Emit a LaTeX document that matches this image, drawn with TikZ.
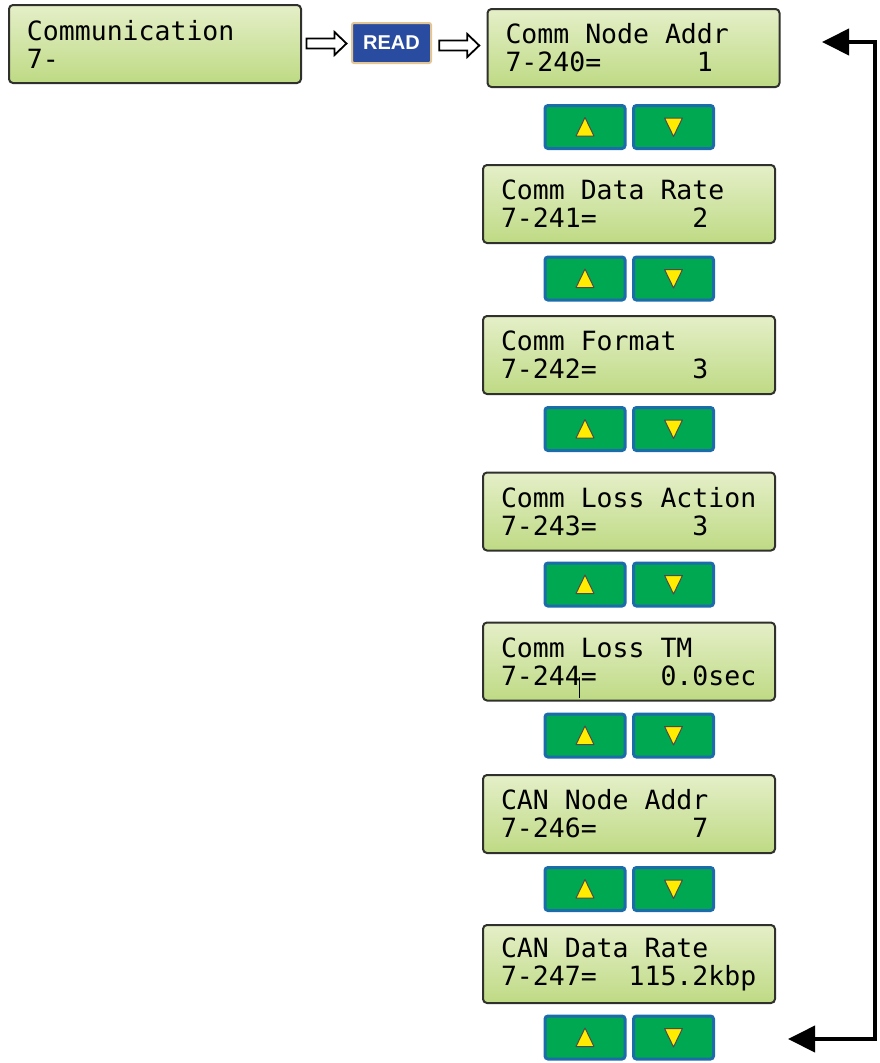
\documentclass[tikz,border=0pt]{standalone}
\usepackage{fontspec}
\usetikzlibrary{arrows.meta,calc}
\newfontfamily\lcdfont{DejaVu Sans Mono}
\newfontfamily\keyfont{Liberation Sans}
\newcommand\lcdspacing{\spaceskip=0.602em\relax\xspaceskip=\spaceskip}

\definecolor{lcdtop}{RGB}{229,239,200}
\definecolor{lcdbot}{RGB}{190,218,132}
\definecolor{lcdedge}{RGB}{48,48,44}
\definecolor{btngreen}{RGB}{0,168,82}
\definecolor{btnblue}{RGB}{28,108,172}
\definecolor{triyellow}{RGB}{255,236,0}
\definecolor{readblue}{RGB}{42,76,160}
\definecolor{readrim}{RGB}{226,198,150}

\tikzset{
  lcd/.style={draw=lcdedge, line width=2pt, rounded corners=4pt,
    top color=lcdtop, bottom color=lcdbot,
    minimum width=292pt, minimum height=78pt, text width=256pt,
    inner xsep=18pt, inner ysep=0pt, align=left,
    font=\lcdfont\fontsize{26.5pt}{28pt}\selectfont,
    execute at begin node=\lcdspacing},
  readkey/.style={draw=readrim, line width=2pt, fill=readblue, rounded corners=2pt,
    minimum width=79pt, minimum height=40pt, inner sep=0pt, text=white,
    font=\keyfont\bfseries\fontsize{20pt}{20pt}\selectfont},
  btn/.style={draw=btnblue, line width=3pt, fill=btngreen, rounded corners=3pt,
    minimum width=80pt, minimum height=43pt, inner sep=0pt},
  tri/.style={draw=black!70, line width=1pt, fill=triyellow, line join=round},
  looparrow/.style={line width=4pt, line join=miter,
    {Triangle[length=27pt,width=26pt]}-{Triangle[length=27pt,width=26pt]}},
  pics/hollowarrow/.style={code={
    \draw[line width=1.8pt, fill=white, line join=miter]
      (-20,-5) -- (8,-5) -- (8,-11.5) -- (20,0) -- (8,11.5) -- (8,5) -- (-20,5) -- cycle;}}
}

\begin{document}
\begin{tikzpicture}[x=1pt, y=-1pt]
    \useasboundingbox (0,0) rectangle (879,1063);

    % Menu entry and READ key
    \node[lcd] (comm) at (155,44) {Communication\\7-};
    \node[readkey] (read) at (391.5,43) {READ};

    % Parameter screens
    \node[lcd, minimum width=291pt] (p240) at (633.5,48) {Comm~Node~Addr\\7-240=~~~~~~1};
    \node[lcd] (p241) at (629,204) {Comm~Data~Rate\\7-241=~~~~~~2};
    \node[lcd] (p242) at (629,355) {Comm~Format\\7-242=~~~~~~3};
    \node[lcd] (p243) at (629,511.5) {Comm~Loss~Action\\7-243=~~~~~~3};
    \node[lcd] (p244) at (629,661.5) {Comm~Loss~TM\\7-244=~~~~0.0sec};
    \node[lcd] (p246) at (629,814) {CAN~Node~Addr\\7-246=~~~~~~7};
    \node[lcd] (p247) at (629,964) {CAN~Data~Rate\\7-247=~~115.2kbp};

    % stray tick in the 7-244 screen
    \draw[line width=1pt] (579,677) -- (579,698);

    % Up / down keys
    \foreach \r/\y in {1/127,2/278.5,3/429,4/584.5,5/735.5,6/889,7/1037.5} {
        \node[btn] (up\r) at (585,\y) {};
        \node[btn] (dn\r) at (673.5,\y) {};
        \draw[tri] ([shift={(-9,9)}]up\r.center) -- ([shift={(9,9)}]up\r.center)
            -- ([shift={(0,-9.5)}]up\r.center) -- cycle;
        \draw[tri] ([shift={(-9,-9)}]dn\r.center) -- ([shift={(9,-9)}]dn\r.center)
            -- ([shift={(0,9.5)}]dn\r.center) -- cycle;
    }

    % Hollow arrows
    \pic at ($(comm.east)!0.5!(read.west)$) {hollowarrow};
    \pic at ($(read.east)!0.5!(p240.west)$) {hollowarrow};

    % Loop back
    \coordinate (looptop) at (822,42);
    \coordinate (loopbot) at (788,1039);
    \coordinate (rail) at (875,0);
    \draw[looparrow] (looptop) -- (looptop -| rail) -- (loopbot -| rail) -- (loopbot);
\end{tikzpicture}
\end{document}
